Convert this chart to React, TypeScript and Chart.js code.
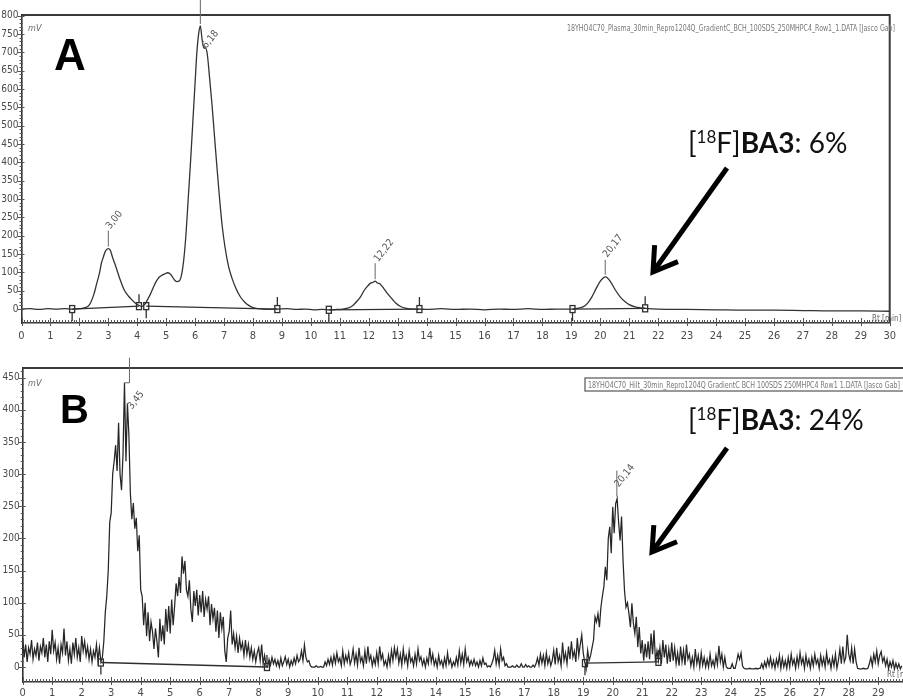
import React, { useEffect, useRef } from "react";
import { Chart, registerables } from "chart.js";

Chart.register(...registerables);

// ---- Run A (plasma, 30 min): retention time (min) / detector signal (mV) ----
const A_TIME = [
  0, 0.3, 0.6, 0.9, 1.2, 1.5, 1.75, 2.0, 2.2, 2.35,
  2.5, 2.6, 2.7, 2.76, 2.82, 2.9, 3.0, 3.07, 3.15, 3.25,
  3.4, 3.55, 3.7, 3.83, 3.95, 4.06, 4.15, 4.25, 4.35, 4.45,
  4.55, 4.65, 4.75, 4.85, 4.95, 5.05, 5.12, 5.2, 5.28, 5.36,
  5.44, 5.52, 5.6, 5.68, 5.76, 5.84, 5.92, 6.0, 6.06, 6.12,
  6.18, 6.24, 6.3, 6.36, 6.42, 6.5, 6.58, 6.66, 6.75, 6.84,
  6.93, 7.03, 7.15, 7.27, 7.4, 7.55, 7.7, 7.85, 8.0, 8.2,
  8.5, 8.85, 9.2, 9.5, 9.8, 10.1, 10.4, 10.65, 10.9, 11.1,
  11.3, 11.45, 11.6, 11.72, 11.85, 11.95, 12.05, 12.15, 12.22, 12.3,
  12.4, 12.52, 12.65, 12.8, 12.95, 13.1, 13.3, 13.5, 13.75, 14.0,
  14.5, 15.0, 15.5, 16.0, 16.5, 17.0, 17.5, 18.0, 18.5, 19.0,
  19.2, 19.4, 19.55, 19.7, 19.85, 20.0, 20.1, 20.17, 20.25, 20.35,
  20.52, 20.7, 20.86, 21.0, 21.2, 21.4, 21.55, 22.0, 23.0, 24.0,
  25.0, 26.0, 27.0, 28.0, 29.0, 30.0,
];
const A_SIGNAL = [
  0, 1, -1, 1, 0, 1, 0, 1, 4, 12,
  40, 70, 100, 125, 140, 158, 165, 160, 140, 118,
  82, 52, 35, 24, 15, 10, 7, 12, 25, 40,
  58, 75, 86, 92, 96, 99, 97, 90, 80, 75,
  76, 90, 130, 200, 300, 400, 510, 620, 700, 750,
  772, 735, 712, 712, 695, 630, 560, 480, 390, 305,
  230, 170, 118, 85, 58, 35, 20, 10, 4, 1,
  -1, 0, 1, -1, 0, -2, -1, -2, -1, 0,
  3, 10, 22, 34, 52, 62, 70, 73, 76, 71,
  68, 56, 42, 28, 15, 7, 2, 0, 0, -1,
  1, -1, 0, -2, 0, -1, 1, -1, 0, 0,
  2, 6, 15, 32, 55, 76, 85, 88, 85, 75,
  52, 32, 20, 12, 6, 3, 2, 0, -1, -2,
  -3, -3, -4, -5, -5, -6,
];

// ---- Run B (30 min): one reading every 0.05 min from t = 0, one row per minute ----
const B_INTERVAL = 0.05;
const B_SIGNAL = [
  45, 15, 35, 8, 30, 20, 42, 12, 28, 18, 38, 10, 32, 22, 45, 15, 35, 8, 40, 20,
  58, 25, 38, 12, 30, 5, 35, 22, 60, 18, 40, 10, 28, 5, 38, 20, 45, 15, 30, 8,
  48, 25, 40, 18, 32, 12, 28, 8, 25, 15, 35, 10, 30, 8, 15, 40, 85, 110, 150, 225,
  240, 300, 320, 345, 305, 380, 300, 275, 330, 442, 320, 410, 360, 270, 230, 255, 215, 232, 180, 205,
  120, 110, 65, 100, 48, 85, 40, 70, 55, 28, 60, 40, 15, 75, 40, 65, 35, 90, 55, 95,
  52, 105, 65, 95, 130, 110, 140, 115, 172, 145, 165, 120, 110, 135, 90, 70, 118, 95, 120, 80,
  112, 85, 118, 78, 105, 90, 110, 65, 98, 75, 92, 55, 88, 45, 85, 60, 78, 25, 8, 45,
  55, 88, 35, 52, 30, 48, 22, 45, 28, 38, 18, 42, 20, 35, 15, 30, 12, 25, 8, 22,
  30, 10, 35, 5, 18, 2, 0, 12, 3, 15, 5, 12, 2, 10, 0, 14, 2, 8, 16, 4,
  12, 0, 10, 3, 14, 5, 18, 8, 12, 25, 10, 34, 15, 8, 10, 2, 0, 0, 0, 2,
  0, 0, 1, 0, 0, 8, 2, 12, 4, 15, 3, 18, 6, 22, 8, 14, 2, 25, 5, 18,
  8, 22, 4, 12, 28, 6, 20, 3, 30, 8, 15, 2, 25, 5, 32, 10, 18, 2, 14, 4,
  22, 5, 32, 12, 20, 3, 10, 0, 18, 4, 26, 10, 30, 15, 28, 6, 20, 3, 28, 8,
  18, 2, 25, 8, 14, 2, 20, 5, 28, 10, 16, 3, 12, 0, 14, 5, 30, 8, 20, 3,
  12, 0, 18, 4, 10, 0, 14, 2, 22, 5, 12, 0, 8, 2, 15, 3, 25, 6, 20, 4,
  28, 8, 15, 2, 10, 3, 12, 2, 8, 0, 10, 2, 14, 4, 6, 0, 2, 0, 5, 12,
  26, 5, 18, 3, 28, 10, 15, 2, 5, 0, 0, 0, 2, 0, 0, 3, 0, 0, 5, 0,
  0, 4, 0, 2, 0, 0, 3, 0, 5, 14, 3, 20, 6, 18, 2, 22, 5, 15, 2, 10,
  26, 4, 30, 8, 18, 2, 38, 10, 22, 5, 32, 12, 40, 15, 25, 8, 45, 18, 35, 50,
  22, 8, -3, 26, 10, 18, 30, 42, 78, 70, 83, 62, 93, 110, 125, 156, 135, 200, 218, 177,
  249, 208, 254, 262, 225, 197, 234, 166, 119, 93, 100, 83, 62, 99, 68, 52, 78, 31, 62, 21,
  42, 10, 36, 15, 40, 12, 52, 20, 57, 8, 25, 10, 30, 5, 42, 15, 35, 5, 28, 8,
  38, 10, 30, 5, 22, 2, 32, 8, 26, 3, 35, 12, 20, 2, 15, 0, 28, 5, 18, 0,
  22, 3, 15, 0, 12, 0, 20, 2, 10, 0, 18, 4, 33, 8, 20, 0, 15, 0, -2, -2,
  -2, 5, -2, -2, 8, 20, 12, 22, 2, -2, -3, -3, -3, -2, -3, -3, -3, -2, -3, -2,
  -2, 5, -2, 8, 0, 12, 2, 15, 0, 10, -2, 12, 2, 18, -2, 14, 0, 10, -2, 15,
  0, 20, 4, 12, -2, 16, 2, 22, 5, 14, -2, 18, 3, 12, -2, 15, 2, 20, 5, 12,
  -2, 18, 3, 14, 0, 22, 5, 12, -2, 15, 2, 20, -2, 10, 28, 5, 32, 8, 15, 50,
  20, 10, 30, 5, 28, 8, -2, -3, -3, -3, -2, -3, -3, -2, 5, 15, 2, 20, 8, 25,
  5, 18, 24, 8, 15, 2, 12, -3, 8, 0, 10, -3, 6, -2, 5, -3, 2,
];
const B_TIME = B_SIGNAL.map((_, i) => i * B_INTERVAL);

// ---- axis ticks ----
const A_Y_TICKS = [0, 50, 100, 150, 200, 250, 300, 350, 400, 450, 500, 550, 600, 650, 700, 750, 800];
const B_Y_TICKS = [0, 50, 100, 150, 200, 250, 300, 350, 400, 450];
const A_X_TICKS = [0, 1, 2, 3, 4, 5, 6, 7, 8, 9, 10, 11, 12, 13, 14, 15, 16, 17, 18, 19, 20, 21, 22, 23, 24, 25, 26, 27, 28, 29, 30];
const B_X_TICKS = [0, 1, 2, 3, 4, 5, 6, 7, 8, 9, 10, 11, 12, 13, 14, 15, 16, 17, 18, 19, 20, 21, 22, 23, 24, 25, 26, 27, 28, 29];

// ---- peak retention times and their labels ----
const A_PEAK_TIMES = [3.0, 6.18, 12.22, 20.17];
const A_PEAK_LABELS = ["3,00", "6,18", "12,22", "20,17"];
const B_PEAK_TIMES = [3.45, 20.14];
const B_PEAK_LABELS = ["3,45", "20,14"];

// ---- integration baselines: [start min, start mV, end min, end mV] ----
const A_BASELINES = [
  [1.75, 0, 4.06, 8],
  [4.31, 8, 8.84, 0],
  [10.62, -2, 13.75, 0],
  [19.04, 0, 21.55, 2],
];
const B_BASELINES = [
  [2.65, 7, 8.28, 0],
  [19.06, 6, 21.55, 8],
];

const A_HEADER = "18YHO4C70_Plasma_30min_Repro1204Q_GradientC_BCH_100SDS_250MHPC4_Row1_1.DATA [Jasco Gab]";
const B_HEADER = "18YHO4C70_Hilt_30min_Repro1204Q GradientC BCH 100SDS 250MHPC4 Row1 1.DATA [Jasco Gab]";
const A_SHARE = "6%";
const B_SHARE = "24%";

const NARROW = "'Liberation Sans Narrow', 'DejaVu Sans Condensed', 'Liberation Sans', sans-serif";
const NOTE_FONT = "Lato, 'Open Sans', sans-serif";

interface PeakLayout { rise: number; dx: number; dy: number; hook?: number }

interface Panel {
  letter: string;
  times: number[];
  values: number[];
  smooth: boolean;
  xMax: number;
  yMin: number;
  yMax: number;
  xTicks: number[];
  yTicks: number[];
  peakTimes: number[];
  peakLabels: string[];
  baselines: number[][];
  header: string;
  share: string;
  height: number;
  padTop: number;
  padRight: number;
  yAxisWidth: number;
  xAxisHeight: number;
  xLabelPad: number;
  rightFrame: boolean;
  peakLayout: PeakLayout[];
  letterSize: number;
  letterX: number;
  letterY: number;
  headerX: number;
  headerY: number;
  headerW: number;
  headerBox: boolean;
  mvX: number;
  mvY: number;
  rtX: number;
  rtY: number;
  noteX: number;
  noteY: number;
  arrow: [number, number, number, number];
}

const PANEL_A: Panel = {
  letter: "A",
  times: A_TIME,
  values: A_SIGNAL,
  smooth: true,
  xMax: 30,
  yMin: -38,
  yMax: 802,
  xTicks: A_X_TICKS,
  yTicks: A_Y_TICKS,
  peakTimes: A_PEAK_TIMES,
  peakLabels: A_PEAK_LABELS,
  baselines: A_BASELINES,
  header: A_HEADER,
  share: A_SHARE,
  height: 350,
  padTop: 15,
  padRight: 6.5,
  yAxisWidth: 21.5,
  xAxisHeight: 27,
  xLabelPad: 7,
  rightFrame: true,
  peakLayout: [
    { rise: 18, dx: 2, dy: -19 },
    { rise: 27, dx: 6, dy: 23 },
    { rise: 18, dx: 3, dy: -19 },
    { rise: 17, dx: 2, dy: -19 },
  ],
  letterSize: 44,
  letterX: 54,
  letterY: 70,
  headerX: 567,
  headerY: 31,
  headerW: 328,
  headerBox: false,
  mvX: 28,
  mvY: 31,
  rtX: 872,
  rtY: 321,
  noteX: 688,
  noteY: 153,
  arrow: [727, 168, 653, 272],
};

const PANEL_B: Panel = {
  letter: "B",
  times: B_TIME,
  values: B_SIGNAL,
  smooth: false,
  xMax: 29.84,
  yMin: -23.3,
  yMax: 465,
  xTicks: B_X_TICKS,
  yTicks: B_Y_TICKS,
  peakTimes: B_PEAK_TIMES,
  peakLabels: B_PEAK_LABELS,
  baselines: B_BASELINES,
  header: B_HEADER,
  share: B_SHARE,
  height: 350,
  padTop: 18,
  padRight: 0,
  yAxisWidth: 22.7,
  xAxisHeight: 18,
  xLabelPad: 5,
  rightFrame: false,
  peakLayout: [
    { rise: 25, dx: 7.5, dy: 27, hook: 5 },
    { rise: 28, dx: 2, dy: -11 },
  ],
  letterSize: 40,
  letterX: 60,
  letterY: 73,
  headerX: 588,
  headerY: 38,
  headerW: 312,
  headerBox: true,
  mvX: 28,
  mvY: 36,
  rtX: 887,
  rtY: 327,
  noteX: 688,
  noteY: 80,
  arrow: [727, 98, 652, 202],
};

function peakValue(times: number[], values: number[], t: number): number {
  let best = -Infinity;
  times.forEach((tt, i) => {
    if (Math.abs(tt - t) <= 0.08 && values[i] > best) best = values[i];
  });
  return best;
}

function decorPlugin(p: Panel) {
  return {
    id: "decor" + p.letter,
    afterDraw(chart: any) {
      const ctx: CanvasRenderingContext2D = chart.ctx;
      const xs = chart.scales.x;
      const ys = chart.scales.y;
      const a = chart.chartArea;
      const X = (t: number) => xs.getPixelForValue(t);
      const Y = (v: number) => ys.getPixelForValue(v);
      ctx.save();

      // frame: top edge (and right edge)
      ctx.strokeStyle = "#3a3a3a";
      ctx.lineWidth = 2;
      ctx.beginPath();
      ctx.moveTo(a.left, a.top);
      ctx.lineTo(a.right, a.top);
      if (p.rightFrame) ctx.lineTo(a.right, a.bottom);
      ctx.stroke();

      // ruler marks along both axes
      ctx.lineWidth = 1;
      ctx.strokeStyle = "#555";
      ctx.beginPath();
      for (let k = 0; k / 10 <= xs.max; k++) {
        const x = Math.round(X(k / 10)) + 0.5;
        const major = k % 10 === 0;
        ctx.moveTo(x, a.bottom - (major ? 5 : 3));
        ctx.lineTo(x, a.bottom + (major ? 3 : 0));
      }
      for (let v = 0; v <= ys.max; v += 10) {
        const y = Math.round(Y(v)) + 0.5;
        const major = v % 50 === 0;
        ctx.moveTo(a.left - (major ? 4 : 2), y);
        ctx.lineTo(a.left + (major ? 3 : 1), y);
      }
      ctx.stroke();

      // integration baselines with boundary markers
      ctx.strokeStyle = "#2f2f2f";
      ctx.lineWidth = 1.3;
      const marker = (x: number, y: number, dir: number) => {
        ctx.strokeRect(x - 2.5, y - 3.5, 5, 7);
        ctx.beginPath();
        ctx.moveTo(x, y + dir * 3.5);
        ctx.lineTo(x, y + dir * 12);
        ctx.stroke();
      };
      p.baselines.forEach(([t1, v1, t2, v2]) => {
        ctx.beginPath();
        ctx.moveTo(X(t1), Y(v1));
        ctx.lineTo(X(t2), Y(v2));
        ctx.stroke();
        marker(X(t1), Y(v1), 1);
        marker(X(t2), Y(v2), -1);
      });

      // peak leaders and retention-time labels
      ctx.strokeStyle = "#666";
      ctx.fillStyle = "#555";
      ctx.lineWidth = 1;
      ctx.font = `10px ${NARROW}`;
      ctx.textAlign = "left";
      ctx.textBaseline = "alphabetic";
      p.peakTimes.forEach((t, i) => {
        const L = p.peakLayout[i];
        const px = X(t);
        const py = Y(peakValue(p.times, p.values, t));
        ctx.beginPath();
        let lx = px;
        if (L.hook) {
          ctx.moveTo(px, py);
          lx = px + L.hook;
          ctx.lineTo(lx, py);
        } else {
          ctx.moveTo(px, py - 2);
        }
        ctx.lineTo(lx, py - L.rise);
        ctx.stroke();
        ctx.save();
        ctx.translate(px + L.dx, py + L.dy);
        ctx.rotate((-52 * Math.PI) / 180);
        ctx.fillText(p.peakLabels[i], 0, 0);
        ctx.restore();
      });

      // file header
      ctx.fillStyle = "#777";
      ctx.font = `8px ${NARROW}`;
      ctx.fillText(p.header, p.headerX, p.headerY, p.headerW);
      if (p.headerBox) {
        ctx.strokeStyle = "#555";
        ctx.lineWidth = 1.2;
        ctx.strokeRect(p.headerX - 3, p.headerY - 10, 330, 13);
      }

      // unit labels
      ctx.fillStyle = "#666";
      ctx.font = `italic 9px ${NARROW}`;
      ctx.fillText("mV", p.mvX, p.mvY);
      ctx.font = `8px ${NARROW}`;
      ctx.fillText("Rt [min]", p.rtX, p.rtY);

      // panel letter
      ctx.fillStyle = "#000";
      ctx.font = `bold ${p.letterSize}px 'Liberation Sans', Arial, sans-serif`;
      ctx.fillText(p.letter, p.letterX, p.letterY);

      // "[18F]BA3: n%" note
      let x = p.noteX;
      const base = p.noteY;
      ctx.fillStyle = "#111";
      const part = (txt: string, font: string, dy = 0) => {
        ctx.font = font;
        ctx.fillText(txt, x, base + dy);
        x += ctx.measureText(txt).width;
      };
      part("[", `28px ${NOTE_FONT}`);
      part("18", `17px ${NOTE_FONT}`, -10);
      part("F]", `28px ${NOTE_FONT}`);
      part("BA3", `bold 28px ${NOTE_FONT}`);
      part(": " + p.share, `28px ${NOTE_FONT}`);

      // arrow towards the product peak
      const [x1, y1, x2, y2] = p.arrow;
      ctx.strokeStyle = "#000";
      ctx.lineWidth = 5;
      ctx.lineJoin = "miter";
      ctx.beginPath();
      ctx.moveTo(x1, y1);
      ctx.lineTo(x2, y2);
      ctx.stroke();
      const ang = Math.atan2(y1 - y2, x1 - x2);
      const arm = 27;
      const spread = (32 * Math.PI) / 180;
      ctx.beginPath();
      ctx.moveTo(x2 + arm * Math.cos(ang - spread), y2 + arm * Math.sin(ang - spread));
      ctx.lineTo(x2, y2);
      ctx.lineTo(x2 + arm * Math.cos(ang + spread), y2 + arm * Math.sin(ang + spread));
      ctx.stroke();

      ctx.restore();
    },
  };
}

function buildChart(canvas: HTMLCanvasElement, p: Panel) {
  const tickFont = { family: NARROW, size: 11 };
  return new Chart(canvas, {
    type: "line",
    data: {
      datasets: [
        {
          data: p.times.map((t, i) => ({ x: t, y: p.values[i] })),
          borderColor: p.smooth ? "#333" : "#262626",
          borderWidth: p.smooth ? 1.3 : 1.25,
          pointRadius: 0,
          fill: false,
          tension: p.smooth ? 0.4 : 0,
          cubicInterpolationMode: p.smooth ? "monotone" : "default",
        },
      ],
    },
    options: {
      responsive: false,
      animation: false,
      events: [],
      layout: {
        autoPadding: false,
        padding: { top: p.padTop, right: p.padRight, left: 0, bottom: 0 },
      },
      plugins: {
        legend: { display: false },
        tooltip: { enabled: false },
        title: { display: false },
      },
      scales: {
        x: {
          type: "linear",
          min: 0,
          max: p.xMax,
          afterFit: (s: any) => {
            s.height = p.xAxisHeight;
          },
          afterBuildTicks: (s: any) => {
            s.ticks = p.xTicks.map((value) => ({ value }));
          },
          grid: { display: false, drawTicks: false },
          border: { display: true, color: "#333", width: 1.6 },
          ticks: {
            padding: p.xLabelPad,
            color: "#4a4a4a",
            font: tickFont,
            maxRotation: 0,
            autoSkip: false,
            callback: (v: any) => String(v),
          },
        },
        y: {
          type: "linear",
          min: p.yMin,
          max: p.yMax,
          afterFit: (s: any) => {
            s.width = p.yAxisWidth;
          },
          afterBuildTicks: (s: any) => {
            s.ticks = p.yTicks.map((value) => ({ value }));
          },
          grid: { display: false, drawTicks: false },
          border: { display: true, color: "#333", width: 1.6 },
          ticks: {
            padding: 3,
            color: "#4a4a4a",
            font: { family: NARROW, size: 10 },
            autoSkip: false,
            callback: (v: any) => String(v),
          },
        },
      },
    } as any,
    plugins: [decorPlugin(p)],
  });
}

function PanelCanvas({ panel, top }: { panel: Panel; top: number }) {
  const ref = useRef<HTMLCanvasElement>(null);
  useEffect(() => {
    if (!ref.current) return;
    const chart = buildChart(ref.current, panel);
    return () => chart.destroy();
  }, [panel]);
  return (
    <canvas
      ref={ref}
      width={903}
      height={panel.height}
      style={{ position: "absolute", left: 0, top, display: "block" }}
    />
  );
}

export default function App() {
  return (
    <div
      style={{
        position: "absolute",
        left: 0,
        top: 0,
        width: 903,
        height: 700,
        background: "#fff",
        overflow: "hidden",
      }}
    >
      <PanelCanvas panel={PANEL_A} top={0} />
      <PanelCanvas panel={PANEL_B} top={350} />
    </div>
  );
}
